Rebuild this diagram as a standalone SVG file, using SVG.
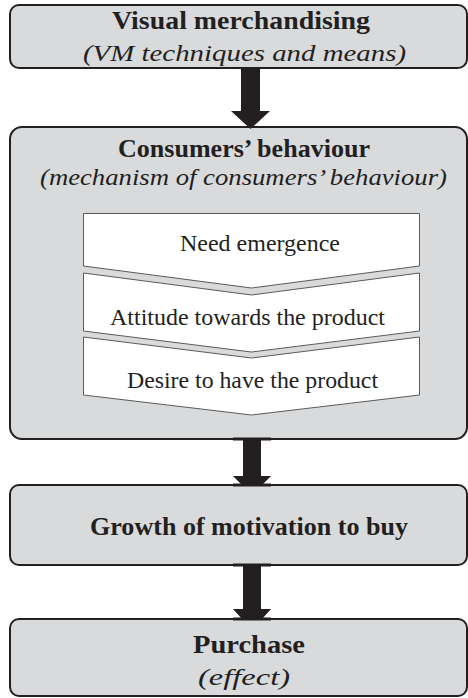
<svg xmlns="http://www.w3.org/2000/svg" width="468" height="698" viewBox="0 0 468 698">
<style>
.box{fill:#d9dadc;stroke:#231f20;stroke-width:2}
.chev{fill:#ffffff;stroke:#5a5a5a;stroke-width:1}
.arr{fill:#231f20}
text{fill:#231f20;text-anchor:middle;font-family:'Liberation Serif','Times New Roman',Times,serif}
.b{font-weight:bold;font-size:24.5px}
.i{font-style:italic;font-size:24px}
.r{font-size:22.5px}
</style>
<rect width="468" height="698" fill="#ffffff"/>
<g id="vm">
<rect class="box" x="10" y="5" width="457" height="63" rx="9"/>
<text class="b" x="241" y="29" textLength="258" lengthAdjust="spacingAndGlyphs">Visual merchandising</text>
<text class="i" x="244.5" y="61" textLength="323" lengthAdjust="spacingAndGlyphs">(VM techniques and means)</text>
</g>
<g id="behaviour">
<rect class="box" x="10" y="127" width="457" height="312" rx="12"/>
<text class="b" x="244" y="157" textLength="252" lengthAdjust="spacingAndGlyphs">Consumers’ behaviour</text>
<text class="i" x="243.5" y="185" textLength="407" lengthAdjust="spacingAndGlyphs">(mechanism of consumers’ behaviour)</text>
</g>
<g id="need">
<polygon class="chev" points="83.5,213.5 419.5,213.5 419.5,266 251.5,288 83.5,266"/>
<text class="r" x="260" y="251" textLength="160" lengthAdjust="spacingAndGlyphs">Need emergence</text>
</g>
<g id="attitude">
<polygon class="chev" points="83.5,273 251.5,295 419.5,273 419.5,331 251.5,352 83.5,331"/>
<text class="r" x="247.5" y="325" textLength="275" lengthAdjust="spacingAndGlyphs">Attitude towards the product</text>
</g>
<g id="desire">
<polygon class="chev" points="83.5,337 251.5,358 419.5,337 419.5,395 251.5,415 83.5,395"/>
<text class="r" x="252.5" y="388" textLength="251" lengthAdjust="spacingAndGlyphs">Desire to have the product</text>
</g>
<g id="growth">
<rect class="box" x="10" y="485" width="457" height="80" rx="9"/>
<text class="b" x="249" y="535" textLength="318" lengthAdjust="spacingAndGlyphs">Growth of motivation to buy</text>
</g>
<g id="purchase">
<rect class="box" x="10" y="619" width="457" height="77" rx="9"/>
<text class="b" x="249" y="653" textLength="112" lengthAdjust="spacingAndGlyphs">Purchase</text>
<text class="i" x="244" y="685" textLength="92" lengthAdjust="spacingAndGlyphs">(effect)</text>
</g>
<g id="connectors">
<polygon class="arr" points="241,68 260,68 260,111 270,111 250.5,129 231,111 241,111"/>
<polygon class="arr" points="243,439 261,439 261,476 271,476 262,485 242,485 233,476 243,476"/>
<rect class="arr" x="233" y="437.5" width="38" height="3"/>
<rect class="arr" x="233" y="483.5" width="38" height="3"/>
<polygon class="arr" points="243,565 261,565 261,609 271,609 262,619 242,619 233,609 243,609"/>
<rect class="arr" x="233" y="563.5" width="38" height="3"/>
<rect class="arr" x="233" y="617.5" width="38" height="3"/>
</g>
</svg>
